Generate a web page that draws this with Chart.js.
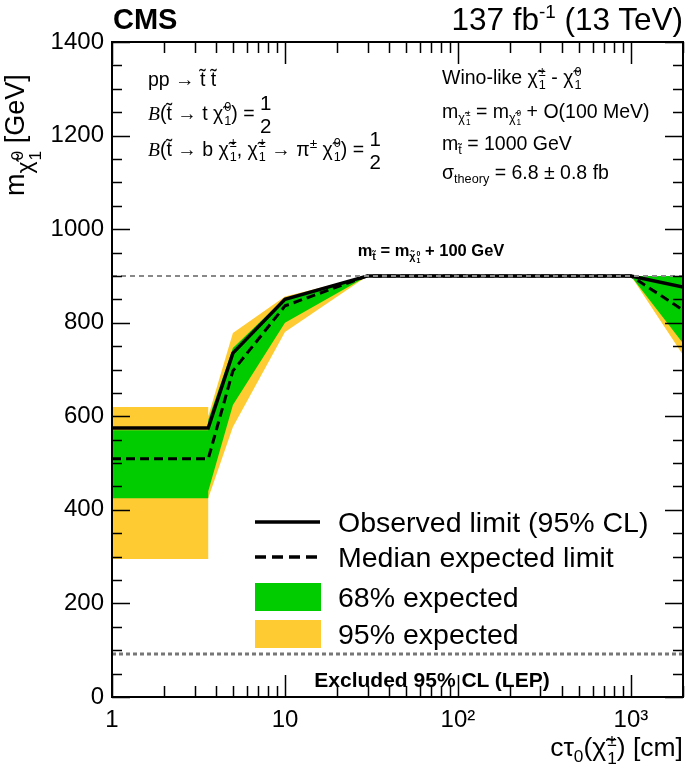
<!DOCTYPE html>
<html>
<head>
<meta charset="utf-8">
<script src="https://cdn.jsdelivr.net/npm/chart.js@4.4.1/dist/chart.umd.min.js"></script>
<style>
    body { margin: 0; background: #fff; }
    #wrap { position: relative; width: 685px; height: 782px; font-family: "Liberation Sans", Arial, sans-serif; color: #000; }
    #wrap canvas { position: absolute; left: 0; top: 0; }
    .t { position: absolute; white-space: nowrap; line-height: 1; }
    .ann { font-size: 19.5px; }
    .ss { display: inline-block; vertical-align: middle; font-size: 0.65em; line-height: 1.05; text-align: left; margin-left: 1px; }
    .ss span { display: block; }
    .sub { font-size: 0.65em; vertical-align: -0.35em; }
    .frac { display: inline-block; vertical-align: middle; text-align: center; line-height: 1.1; font-size: 1.05em; }
    .frac span { display: block; }
    .leg { font-size: 28.5px; left: 338px; transform: translateY(-50%); }
</style>
</head>
<body>
<div id="wrap">
    <canvas id="limitChart" width="685" height="782"></canvas>

    <div class="t" style="left:113px; top:5px; font-size:29px; font-weight:bold;">CMS</div>
    <div class="t" style="right:2px; top:3px; font-size:31.5px;">137 fb<sup style="font-size:0.6em">-1</sup> (13 TeV)</div>

    <div class="t" style="left:2px; top:196px; font-size:27px; transform:rotate(-90deg); transform-origin:0 0;">m<span class="sub" style="font-size:0.85em">χ̃<span class="ss" style="font-size:0.75em"><span>0</span><span>1</span></span></span>&nbsp;[GeV]</div>
    <div class="t" style="right:2px; top:731px; font-size:26.5px;">cτ<span class="sub">0</span>(χ̃<span class="ss"><span>±</span><span>1</span></span>) [cm]</div>

    <div class="t ann" style="left:148px; top:70px;">pp → t̃ t̃</div>
    <div class="t ann" style="left:148px; top:92px;"><i style="font-family:'Liberation Serif',serif">B</i>(t̃ → t χ̃<span class="ss"><span>0</span><span>1</span></span>) = <span class="frac"><span>1</span><span>2</span></span></div>
    <div class="t ann" style="left:148px; top:128px;"><i style="font-family:'Liberation Serif',serif">B</i>(t̃ → b χ̃<span class="ss"><span>±</span><span>1</span></span>, χ̃<span class="ss"><span>±</span><span>1</span></span> → π<sup style="font-size:0.7em">±</sup> χ̃<span class="ss"><span>0</span><span>1</span></span>) = <span class="frac"><span>1</span><span>2</span></span></div>

    <div class="t ann" style="left:442px; top:66px;">Wino-like χ̃<span class="ss"><span>±</span><span>1</span></span> - χ̃<span class="ss"><span>0</span><span>1</span></span></div>
    <div class="t ann" style="left:442px; top:102px;">m<span class="sub">χ̃<span class="ss"><span>±</span><span>1</span></span></span> = m<span class="sub">χ̃<span class="ss"><span>0</span><span>1</span></span></span> + O(100 MeV)</div>
    <div class="t ann" style="left:442px; top:134px;">m<span class="sub">t̃</span> = 1000 GeV</div>
    <div class="t ann" style="left:442px; top:163px;">σ<span class="sub">theory</span> = 6.8 ± 0.8 fb</div>

    <div class="t" style="left:431px; top:242px; font-size:16.5px; font-weight:bold; transform:translateX(-50%);">m<span class="sub">t̃</span> = m<span class="sub">χ̃<span class="ss"><span>0</span><span>1</span></span></span> + 100 GeV</div>
    <div class="t" style="left:432px; top:669px; font-size:21px; font-weight:bold; transform:translateX(-50%);">Excluded 95% CL (LEP)</div>

    <div class="t leg" style="top:522px;">Observed limit (95% CL)</div>
    <div class="t leg" style="top:557px;">Median expected limit</div>
    <div class="t leg" style="top:597px;">68% expected</div>
    <div class="t leg" style="top:634px;">95% expected</div>
</div>

<script>
// c*tau of the chargino in cm (3.6 appears twice: step at the edge of the short-lifetime box)
const ctau = [1, 3.6, 3.6, 5, 10, 30, 1000, 2000];
const observed = [575, 575, 575, 735, 850, 900, 900, 876];
const expected = [509, 509, 509, 697, 836, 900, 900, 827];
const band68Up = [570, 570, 592, 746, 853, 900, 900, 900];
const band68Down = [425, 425, 440, 624, 800, 900, 900, 756];
const band95Up = [620, 620, 600, 778, 856, 900, 900, 900];
const band95Down = [295, 295, 425, 577, 780, 900, 900, 731];

// reference lines
const refX = [1, 2000];
const diagonalY = [900, 900];   // m_stop = m_LSP + 100 GeV
const lepY = [92, 92];          // LEP exclusion

const xTickValues = [1, 10, 100, 1000];
const xTickLabels = ['1', '10', '10²', '10³'];
const yTickValues = [0, 200, 400, 600, 800, 1000, 1200, 1400];
const yTickLabels = ['0', '200', '400', '600', '800', '1000', '1200', '1400'];

const GREEN = '#00cc00';
const YELLOW = '#fecb32';

function toPoints(xs, ys) {
    return xs.map((x, i) => ({ x: x, y: ys[i] }));
}

function lineSet(label, xs, ys, extra) {
    return Object.assign({
        label: label,
        data: toPoints(xs, ys),
        borderColor: '#000',
        borderWidth: 3,
        pointRadius: 0,
        tension: 0,
        fill: false
    }, extra);
}

// ROOT style ticks drawn inside the frame, on all four sides
const insideTicks = {
    id: 'insideTicks',
    afterDraw(chart) {
        const { ctx, chartArea: a, scales: { x, y } } = chart;
        ctx.save();
        ctx.strokeStyle = '#000';
        ctx.lineWidth = 1.5;
        ctx.beginPath();
        for (let v = 0; v <= 1400; v += 50) {
            const py = Math.round(y.getPixelForValue(v)) + 0.5;
            const len = v % 200 === 0 ? 18 : 10;
            ctx.moveTo(a.left, py); ctx.lineTo(a.left + len, py);
            ctx.moveTo(a.right, py); ctx.lineTo(a.right - len, py);
        }
        xTickValues.forEach(decade => {
            for (let m = 1; m <= 9; m++) {
                const v = decade * m;
                if (v > 2000) break;
                const px = Math.round(x.getPixelForValue(v)) + 0.5;
                const len = m === 1 ? 22 : 11;
                ctx.moveTo(px, a.bottom); ctx.lineTo(px, a.bottom - len);
                ctx.moveTo(px, a.top); ctx.lineTo(px, a.top + len);
            }
        });
        ctx.stroke();

        ctx.lineWidth = 2;
        ctx.strokeRect(a.left, a.top, a.right - a.left, a.bottom - a.top);

        // legend symbols
        ctx.lineWidth = 3.5;
        ctx.beginPath();
        ctx.moveTo(255, 522); ctx.lineTo(320, 522);
        ctx.stroke();
        ctx.setLineDash([11, 6]);
        ctx.beginPath();
        ctx.moveTo(255, 557); ctx.lineTo(320, 557);
        ctx.stroke();
        ctx.setLineDash([]);
        ctx.fillStyle = GREEN;
        ctx.fillRect(255, 583, 66, 28);
        ctx.fillStyle = YELLOW;
        ctx.fillRect(255, 620, 66, 28);
        ctx.restore();
    }
};

document.addEventListener('DOMContentLoaded', function() {
    const ctx = document.getElementById('limitChart');

    new Chart(ctx, {
        type: 'line',
        data: {
            datasets: [
                lineSet('diagonal', refX, diagonalY, { borderColor: '#888', borderWidth: 2, borderDash: [5, 4] }),
                lineSet('Observed limit (95% CL)', ctau, observed, { borderWidth: 3.5 }),
                lineSet('Median expected limit', ctau, expected, { borderDash: [9, 5] }),
                lineSet('68% up', ctau, band68Up, { borderWidth: 0, backgroundColor: GREEN, fill: { target: 4 } }),
                lineSet('68% down', ctau, band68Down, { borderWidth: 0 }),
                lineSet('95% up', ctau, band95Up, { borderWidth: 0, backgroundColor: YELLOW, fill: { target: 6 } }),
                lineSet('95% down', ctau, band95Down, { borderWidth: 0 }),
                lineSet('LEP', refX, lepY, { borderColor: '#777', borderWidth: 3, borderDash: [4, 3] })
            ]
        },
        options: {
            responsive: false,
            animation: false,
            layout: { padding: { top: 42, right: 2, left: 0, bottom: 0 } },
            plugins: {
                legend: { display: false },
                tooltip: { enabled: false }
            },
            scales: {
                x: {
                    type: 'logarithmic',
                    min: 1,
                    max: 2000,
                    grid: { display: false, drawTicks: false },
                    border: { display: false },
                    afterBuildTicks: scale => { scale.ticks = xTickValues.map(v => ({ value: v })); },
                    afterFit: scale => { scale.height = 85; },
                    ticks: {
                        autoSkip: false,
                        maxRotation: 0,
                        padding: 9,
                        color: '#000',
                        font: { family: '"Liberation Sans", Arial', size: 24 },
                        callback: value => xTickLabels[xTickValues.indexOf(value)]
                    }
                },
                y: {
                    min: 0,
                    max: 1400,
                    grid: { display: false, drawTicks: false },
                    border: { display: false },
                    afterBuildTicks: scale => { scale.ticks = yTickValues.map(v => ({ value: v })); },
                    afterFit: scale => { scale.width = 112; },
                    ticks: {
                        padding: 8,
                        color: '#000',
                        font: { family: '"Liberation Sans", Arial', size: 24 },
                        callback: value => yTickLabels[yTickValues.indexOf(value)]
                    }
                }
            }
        },
        plugins: [insideTicks]
    });
});
</script>
</body>
</html>
